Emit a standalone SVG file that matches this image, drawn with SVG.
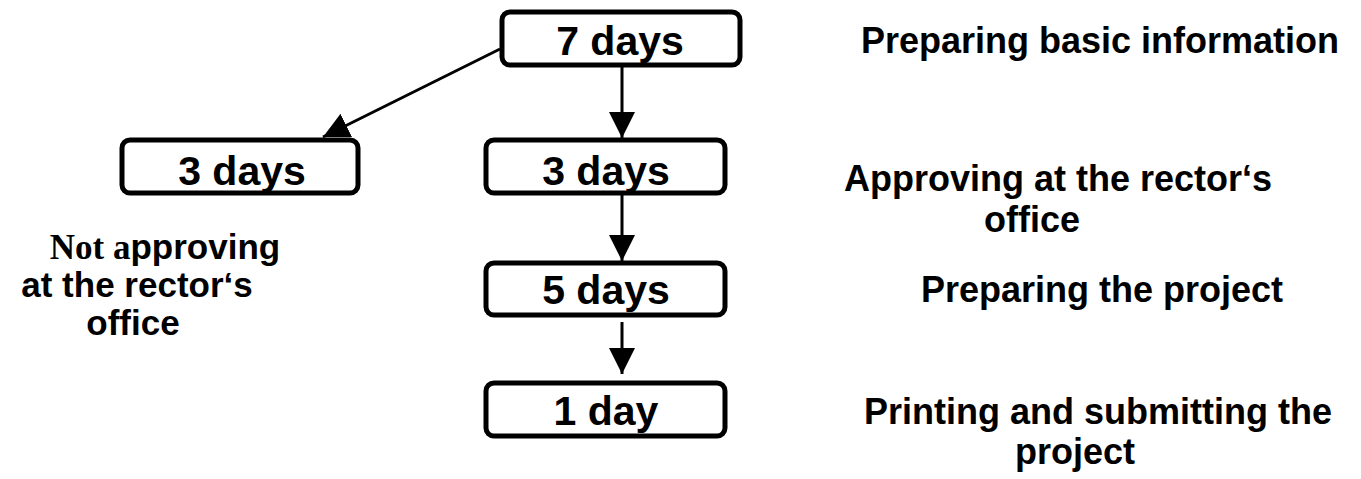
<svg xmlns="http://www.w3.org/2000/svg" width="1361" height="479" viewBox="0 0 1361 479">
  <style>
    .box { fill: #ffffff; stroke: #000000; stroke-width: 5; }
    .days { font-family: "Liberation Sans", Arial, sans-serif; font-weight: bold; font-size: 41px; fill: #000; text-anchor: middle; }
    .label { font-family: "Liberation Sans", Arial, sans-serif; font-weight: bold; font-size: 36px; fill: #000; text-anchor: middle; }
    .side { font-size: 35px; }
    .serif { font-family: "Liberation Serif", "Times New Roman", serif; }
    .edge { stroke: #000000; stroke-width: 3; fill: none; marker-end: url(#head); }
  </style>
  <defs>
    <marker id="head" viewBox="0 0 10 10" refX="10" refY="5" markerUnits="userSpaceOnUse" markerWidth="26" markerHeight="27" orient="auto">
      <path d="M0,0 L10,5 L0,10 Z" fill="#000"/>
    </marker>
  </defs>

  <rect width="1361" height="479" fill="#ffffff"/>

  <!-- connectors -->
  <g id="connectors">
    <line class="edge" x1="622" y1="67" x2="622" y2="138"/>
    <line class="edge" x1="500" y1="49" x2="323" y2="137"/>
    <line class="edge" x1="622" y1="195" x2="622" y2="261"/>
    <line class="edge" x1="622" y1="322" x2="622" y2="374"/>
  </g>

  <!-- nodes -->
  <g id="n-7days">
    <rect class="box" x="502" y="12" width="238" height="53" rx="8"/>
    <text class="days" x="620" y="55">7 days</text>
  </g>
  <g id="n-3days-left">
    <rect class="box" x="122" y="140" width="236" height="53" rx="8"/>
    <text class="days" x="242" y="185">3 days</text>
  </g>
  <g id="n-3days">
    <rect class="box" x="486" y="140" width="239" height="53" rx="8"/>
    <text class="days" x="606" y="185">3 days</text>
  </g>
  <g id="n-5days">
    <rect class="box" x="486" y="263" width="239" height="52" rx="8"/>
    <text class="days" x="606" y="304">5 days</text>
  </g>
  <g id="n-1day">
    <rect class="box" x="486" y="383" width="239" height="53" rx="8"/>
    <text class="days" x="606" y="425">1 day</text>
  </g>

  <!-- descriptions -->
  <g id="t-basic">
    <text class="label" x="1100" y="53">Preparing basic information</text>
  </g>
  <g id="t-approving">
    <text class="label" x="1058" y="191">Approving at the rector‘s</text>
    <text class="label" x="1032" y="232">office</text>
  </g>
  <g id="t-project">
    <text class="label" x="1102" y="302">Preparing the project</text>
  </g>
  <g id="t-printing">
    <text class="label" x="1098" y="424">Printing and submitting the</text>
    <text class="label" x="1075" y="464">project</text>
  </g>
  <g id="t-not-approving">
    <text class="label side" x="165" y="259"><tspan class="serif">Not a</tspan>pproving</text>
    <text class="label side" x="137" y="297">at the rector‘s</text>
    <text class="label side" x="133" y="335">office</text>
  </g>
</svg>
